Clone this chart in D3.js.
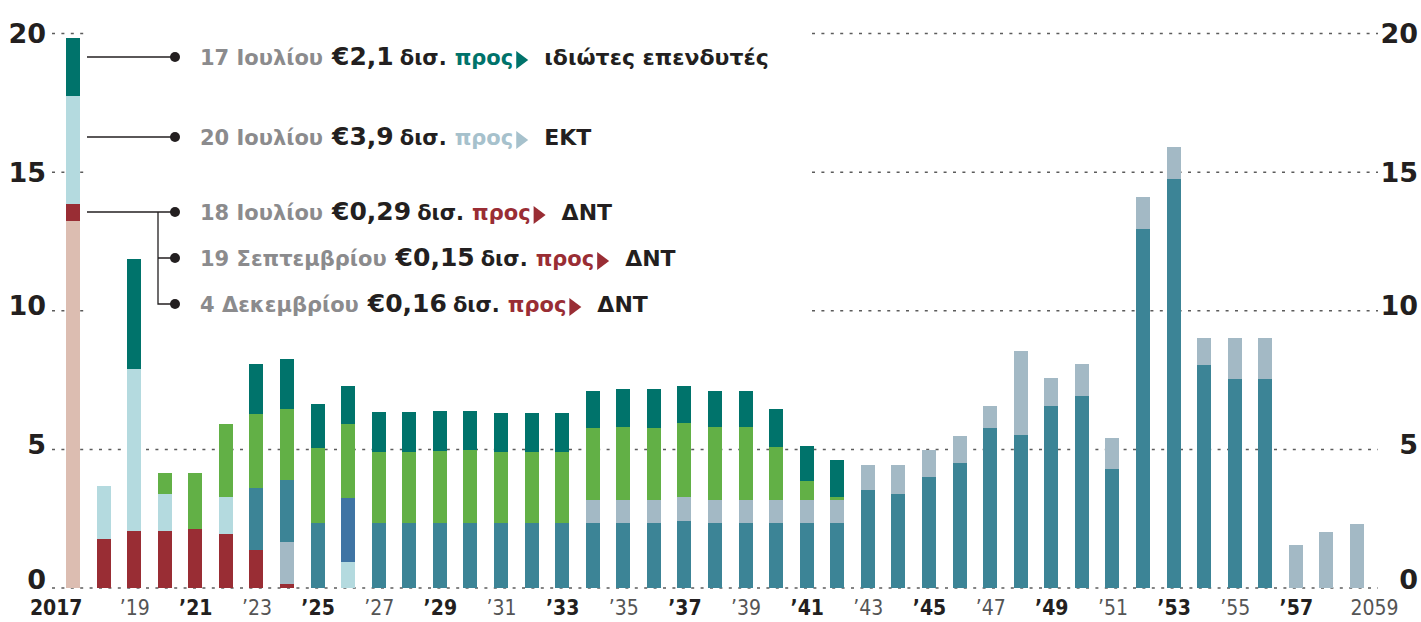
<!DOCTYPE html>
<html>
<head>
<meta charset="utf-8">
<script src="https://cdn.jsdelivr.net/npm/d3@7"></script>
<style>
	body { margin: 0; background: #fff; }
	svg { display: block; }
	.grid line { stroke: #5c5c5c; stroke-width: 1.5; stroke-dasharray: 3 6.4; }
	.num text { font-family: 'DejaVu Sans', sans-serif; font-weight: bold; font-size: 27px; fill: #231f20; }
	.years text { font-family: 'Liberation Sans Narrow', 'DejaVu Sans Condensed', sans-serif; font-size: 21px; fill: #555; }
	.years text.major { font-weight: bold; fill: #231f20; }
	.note { font-family: 'DejaVu Sans', sans-serif; font-weight: bold; }
</style>
</head>
<body>
<svg width="1421" height="622"></svg>
<script>
const years = [2017, 2018, 2019, 2020, 2021, 2022, 2023, 2024, 2025, 2026, 2027, 2028, 2029, 2030, 2031, 2032, 2033, 2034, 2035, 2036, 2037, 2038, 2039, 2040, 2041, 2042, 2043, 2044, 2045, 2046, 2047, 2048, 2049, 2050, 2051, 2052, 2053, 2054, 2055, 2056, 2057, 2058, 2059];

// δισ. ευρώ ανά έτος, από κάτω προς τα πάνω
const prior    = [13.25, 0, 0, 0, 0, 0, 0, 0, 0, 0, 0, 0, 0, 0, 0, 0, 0, 0, 0, 0, 0, 0, 0, 0, 0, 0, 0, 0, 0, 0, 0, 0, 0, 0, 0, 0, 0, 0, 0, 0, 0, 0, 0];
const imf      = [0.6, 1.76, 2.05, 2.05, 2.12, 1.94, 1.38, 0.14, 0, 0, 0, 0, 0, 0, 0, 0, 0, 0, 0, 0, 0, 0, 0, 0, 0, 0, 0, 0, 0, 0, 0, 0, 0, 0, 0, 0, 0, 0, 0, 0, 0, 0, 0];
const ecb      = [3.9, 1.92, 5.86, 1.33, 0, 1.33, 0, 0, 0, 0.94, 0, 0, 0, 0, 0, 0, 0, 0, 0, 0, 0, 0, 0, 0, 0, 0, 0, 0, 0, 0, 0, 0, 0, 0, 0, 0, 0, 0, 0, 0, 0, 0, 0];
const other    = [0, 0, 0, 0, 0, 0, 0, 0, 0, 2.31, 0, 0, 0, 0, 0, 0, 0, 0, 0, 0, 0, 0, 0, 0, 0, 0, 0, 0, 0, 0, 0, 0, 0, 0, 0, 0, 0, 0, 0, 0, 0, 0, 0];
const esmEarly = [0, 0, 0, 0, 0, 0, 0, 1.53, 0, 0, 0, 0, 0, 0, 0, 0, 0, 0, 0, 0, 0, 0, 0, 0, 0, 0, 0, 0, 0, 0, 0, 0, 0, 0, 0, 0, 0, 0, 0, 0, 0, 0, 0];
const efsf     = [0, 0, 0, 0, 0, 0, 2.23, 2.23, 2.35, 0, 2.35, 2.35, 2.35, 2.35, 2.35, 2.35, 2.35, 2.35, 2.35, 2.35, 2.41, 2.35, 2.35, 2.35, 2.35, 2.35, 3.54, 3.39, 4.0, 4.51, 5.77, 5.51, 6.56, 6.92, 4.29, 12.96, 14.76, 8.03, 7.53, 7.53, 0, 0, 0];
const esm      = [0, 0, 0, 0, 0, 0, 0, 0, 0, 0, 0, 0, 0, 0, 0, 0, 0, 0.81, 0.81, 0.81, 0.86, 0.81, 0.81, 0.81, 0.81, 0.81, 0.88, 1.03, 0.97, 0.99, 0.81, 3.05, 1.03, 1.17, 1.11, 1.14, 1.15, 1.0, 1.5, 1.5, 1.55, 2.01, 2.3];
const glf      = [0, 0, 0, 0.76, 2.02, 2.63, 2.66, 2.57, 2.7, 2.65, 2.54, 2.54, 2.59, 2.62, 2.54, 2.54, 2.54, 2.61, 2.63, 2.61, 2.68, 2.63, 2.63, 1.91, 0.69, 0.12, 0, 0, 0, 0, 0, 0, 0, 0, 0, 0, 0, 0, 0, 0, 0, 0, 0];
const priv     = [2.1, 0, 3.96, 0, 0, 0, 1.82, 1.8, 1.57, 1.37, 1.45, 1.45, 1.44, 1.41, 1.42, 1.42, 1.42, 1.32, 1.37, 1.42, 1.32, 1.3, 1.3, 1.37, 1.26, 1.33, 0, 0, 0, 0, 0, 0, 0, 0, 0, 0, 0, 0, 0, 0, 0, 0, 0];

const yTicks = [0, 5, 10, 15, 20];
const tickYears = [2017, 2019, 2021, 2023, 2025, 2027, 2029, 2031, 2033, 2035, 2037, 2039, 2041, 2043, 2045, 2047, 2049, 2051, 2053, 2055, 2057, 2059];
const tickLabels = ['2017', '’19', '’21', '’23', '’25', '’27', '’29', '’31', '’33', '’35', '’37', '’39', '’41', '’43', '’45', '’47', '’49', '’51', '’53', '’55', '’57', '2059'];

const noteDates = ['17 Ιουλίου', '20 Ιουλίου', '18 Ιουλίου', '19 Σεπτεμβρίου', '4 Δεκεμβρίου'];
const noteAmounts = ['€2,1', '€3,9', '€0,29', '€0,15', '€0,16'];
const noteTargets = ['ιδιώτες επενδυτές', 'ΕΚΤ', 'ΔΝΤ', 'ΔΝΤ', 'ΔΝΤ'];

const series = { prior, imf, ecb, other, esmEarly, efsf, esm, glf, priv };
const keys = Object.keys(series);
const colors = {
	prior: '#dcbdb1',
	imf: '#992d34',
	ecb: '#b4dadf',
	other: '#3f74a4',
	esmEarly: '#a3b9c5',
	efsf: '#3c8496',
	esm: '#a3b9c5',
	glf: '#62b046',
	priv: '#00736b'
};
const noteColors = ['#00736b', '#a6c1cc', '#992d34', '#992d34', '#992d34'];

const svg = d3.select('svg');

const x = d3.scalePoint().domain(years).range([73, 1357]);
const y = d3.scaleLinear().domain([0, 20]).range([588, 33.5]);
const barW = 14;

// gridlines (the upper ones are cut where the notes sit)
const grid = svg.append('g').attr('class', 'grid');
yTicks.forEach(v => {
	let segs = v >= 10 ? [[52, 87], [812, 1378]] : [[52, 1378]];
	segs.forEach(s => {
		grid.append('line')
			.attr('x1', s[0])
			.attr('x2', s[1])
			.attr('y1', y(v))
			.attr('y2', y(v));
	});
});

const rows = years.map((yr, i) => {
	let r = { year: yr };
	keys.forEach(k => (r[k] = series[k][i]));
	return r;
});

const stacked = d3.stack().keys(keys)(rows);

svg
	.append('g')
	.selectAll('g')
	.data(stacked)
	.enter()
	.append('g')
	.attr('fill', d => colors[d.key])
	.selectAll('rect')
	.data(d => d.filter(p => p[1] - p[0] > 0))
	.enter()
	.append('rect')
	.attr('x', d => x(d.data.year) - barW / 2)
	.attr('width', barW)
	.attr('y', d => y(d[1]))
	.attr('height', d => y(d[0]) - y(d[1]))
	.attr('shape-rendering', 'crispEdges');

// y axes, left and right
const labelShift = v => (v === 0 ? 0 : v >= 15 ? 9 : 4);

const leftAxis = svg
	.append('g')
	.attr('class', 'num')
	.attr('transform', 'translate(46,0)')
	.call(d3.axisLeft(y).tickValues(yTicks).tickSize(0).tickPadding(0));
leftAxis.select('.domain').remove();
leftAxis.selectAll('text').attr('dy', d => labelShift(d));

const rightAxis = svg
	.append('g')
	.attr('class', 'num')
	.attr('transform', 'translate(1418,0)')
	.call(d3.axisLeft(y).tickValues(yTicks).tickSize(0).tickPadding(0));
rightAxis.select('.domain').remove();
rightAxis.selectAll('text').attr('dy', d => labelShift(d));

// x axis
const xAxis = svg
	.append('g')
	.attr('class', 'years')
	.attr('transform', `translate(0,${y(0)})`)
	.call(
		d3
			.axisBottom(x)
			.tickValues(tickYears)
			.tickSize(0)
			.tickFormat((d, i) => tickLabels[i])
	);
xAxis.select('.domain').remove();
xAxis
	.selectAll('text')
	.attr('y', 0)
	.attr('dy', 27)
	.classed('major', d => (d - 2017) % 4 === 0)
	.attr('text-anchor', d => (d === 2017 ? 'end' : d === 2059 ? 'start' : 'middle'))
	.attr('x', d => (d === 2017 ? 9 : d === 2059 ? -7 : 0));

// notes
const noteY = [57, 137, 212, 258, 304];
const barRight = x(2017) + barW / 2 + 7;
const dotX = 175;
const branchX = 158;
const ink = '#231f20';

const lines = svg.append('g').attr('stroke', ink).attr('stroke-width', 1.3).attr('fill', 'none');
lines.append('path').attr('d', `M${barRight},${noteY[0]}H${dotX}`);
lines.append('path').attr('d', `M${barRight},${noteY[1]}H${dotX}`);
lines.append('path').attr('d', `M${barRight},${noteY[2]}H${dotX}`);
lines.append('path').attr('d', `M${branchX},${noteY[2]}V${noteY[4]}H${dotX}M${branchX},${noteY[3]}H${dotX}`);

svg
	.append('g')
	.selectAll('circle')
	.data(noteY)
	.enter()
	.append('circle')
	.attr('cx', dotX)
	.attr('cy', d => d)
	.attr('r', 5)
	.attr('fill', ink);

noteY.forEach((ny, i) => {
	let cx = 200;
	const base = ny + 7.5;
	const piece = (str, size, fill, gap) => {
		let t = svg
			.append('text')
			.attr('class', 'note')
			.attr('x', cx)
			.attr('y', base)
			.attr('font-size', size)
			.attr('fill', fill)
			.text(str);
		cx += t.node().getComputedTextLength() + gap;
	};
	piece(noteDates[i], 21, '#8b8b8d', 9);
	piece(noteAmounts[i], 25, ink, 6);
	piece('δισ.', 21, ink, 8);
	piece('προς', 21, noteColors[i], 3);
	svg
		.append('path')
		.attr('d', `M${cx},${ny - 6}L${cx + 12},${ny + 3}L${cx},${ny + 12}Z`)
		.attr('fill', noteColors[i]);
	cx += 12 + 16;
	piece(noteTargets[i], 22, ink, 0);
});
</script>
</body>
</html>
